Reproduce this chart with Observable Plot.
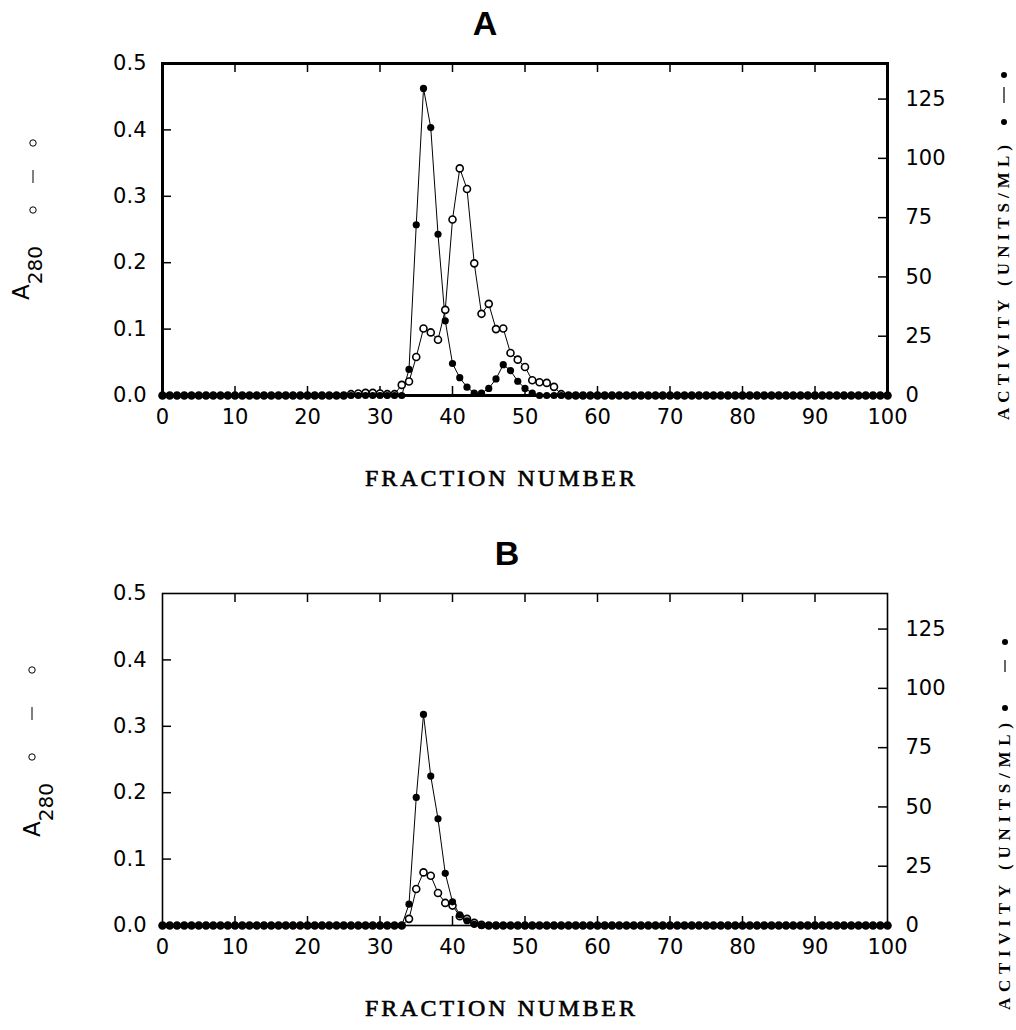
<!DOCTYPE html>
<html><head><meta charset="utf-8">
<script src="https://cdn.jsdelivr.net/npm/d3@7"></script>
<script src="https://cdn.jsdelivr.net/npm/@observablehq/plot@0.6"></script>
<style>
body{margin:0;background:#fff}
#chart{width:1016px}
svg{display:block}
</style>
</head><body><div id="chart"></div>
<script>
// ---- data ----
const fractions = [0,1,2,3,4,5,6,7,8,9,10,11,12,13,14,15,16,17,18,19,20,21,22,23,24,25,26,27,28,29,30,31,32,33,34,35,36,37,38,39,40,41,42,43,44,45,46,47,48,49,50,51,52,53,54,55,56,57,58,59,60,61,62,63,64,65,66,67,68,69,70,71,72,73,74,75,76,77,78,79,80,81,82,83,84,85,86,87,88,89,90,91,92,93,94,95,96,97,98,99,100];

// Panel A
const absA = [0,0,0,0,0,0,0,0,0,0, 0,0,0,0,0,0,0,0,0,0, 0,0,0,0,0,0,0.002,0.003,0.004,0.004, 0.003,0.002,0.002,0.016,0.021,0.058,0.101,0.095,0.084,0.129, 0.265,0.342,0.311,0.199,0.123,0.138,0.100,0.101,0.064,0.054, 0.043,0.023,0.020,0.019,0.013,0.002,0,0,0,0, 0,0,0,0,0,0,0,0,0,0, 0,0,0,0,0,0,0,0,0,0, 0,0,0,0,0,0,0,0,0,0, 0,0,0,0,0,0,0,0,0,0, 0];
const actA = [0,0,0,0,0,0,0,0,0,0, 0,0,0,0,0,0,0,0,0,0, 0,0,0,0,0,0,0,0,0,0, 0,0,0,0,11,72,129.5,113,68,31.5, 13.5,7.5,3.5,1,1,3,7,13,10.5,6, 3,1,0,0,0,0,0,0,0,0, 0,0,0,0,0,0,0,0,0,0, 0,0,0,0,0,0,0,0,0,0, 0,0,0,0,0,0,0,0,0,0, 0,0,0,0,0,0,0,0,0,0, 0];

// Panel B
const absB = [0,0,0,0,0,0,0,0,0,0, 0,0,0,0,0,0,0,0,0,0, 0,0,0,0,0,0,0,0,0,0, 0,0,0,0,0.010,0.055,0.080,0.075,0.049,0.034, 0.030,0.014,0.010,0.004,0.001,0,0,0,0,0, 0,0,0,0,0,0,0,0,0,0, 0,0,0,0,0,0,0,0,0,0, 0,0,0,0,0,0,0,0,0,0, 0,0,0,0,0,0,0,0,0,0, 0,0,0,0,0,0,0,0,0,0, 0];
const actB = [0,0,0,0,0,0,0,0,0,0, 0,0,0,0,0,0,0,0,0,0, 0,0,0,0,0,0,0,0,0,0, 0,0,0,0,9,54,89,63,45,22, 10,4.5,2,0.5,0,0,0,0,0,0, 0,0,0,0,0,0,0,0,0,0, 0,0,0,0,0,0,0,0,0,0, 0,0,0,0,0,0,0,0,0,0, 0,0,0,0,0,0,0,0,0,0, 0,0,0,0,0,0,0,0,0,0, 0];

// ticks
const xTicks = [0,10,20,30,40,50,60,70,80,90,100];
const absTicks = [0,0.1,0.2,0.3,0.4,0.5];
const actTicks = [0,25,50,75,100,125];

// ---- layout ----
const W = 1016, ML = 162, MR = 129, MT = 63, BOTTOM = 395;
const A_MAX = 0.5, ACT_MAX = 140, k = A_MAX / ACT_MAX;
const TICK = 9;

function panel(cfg) {
  const rows = fractions.map((f, i) => ({f, a: cfg.abs[i], v: cfg.act[i] * k}));
  const innerW = W - ML - MR, innerH = BOTTOM - MT;
  const tx = TICK * 100 / innerW, ty = TICK * A_MAX / innerH;
  const tickStyle = {stroke: "#000", strokeWidth: 1.5};
  const plot = Plot.plot({
    width: W, height: cfg.height,
    marginLeft: ML, marginRight: MR, marginTop: MT, marginBottom: cfg.height - BOTTOM,
    x: {domain: [0, 100]},
    y: {domain: [0, A_MAX]},
    style: {fontFamily: "DejaVu Sans", fontSize: "21px", color: "#000", background: "#fff", overflow: "visible"},
    marks: [
      Plot.axisX({ticks: xTicks, tickSize: 0, tickPadding: 14, label: null, tickFormat: d => String(d)}),
      Plot.axisY({anchor: "left", ticks: absTicks, tickSize: 0, tickPadding: 16, label: null, tickFormat: d3.format(".1f")}),
      Plot.axisY({anchor: "right", ticks: actTicks.map(t => t * k), tickSize: 0, tickPadding: 18, label: null, tickFormat: d => String(Math.round(d / k))}),
      Plot.ruleY(absTicks.slice(1, -1), {x1: 0, x2: tx, ...tickStyle}),
      Plot.ruleY(actTicks.slice(1).map(t => t * k), {x1: 100 - tx, x2: 100, ...tickStyle}),
      Plot.ruleX(xTicks.slice(1, -1), {y1: A_MAX - ty, y2: A_MAX, ...tickStyle}),
      Plot.ruleX(xTicks.slice(1, -1), {y1: 0, y2: ty, ...tickStyle}),
      Plot.line(rows, {x: "f", y: "a", stroke: "#000", strokeWidth: 1}),
      Plot.line(rows, {x: "f", y: "v", stroke: "#000", strokeWidth: 1}),
      Plot.dot(rows, {x: "f", y: "a", r: 3.5, fill: "#fff", stroke: "#000", strokeWidth: 1.6}),
      Plot.dot(rows, {x: "f", y: "v", r: 3.6, fill: "#000", stroke: "none"}),
      Plot.frame({stroke: "#000", strokeWidth: cfg.frameWidth})
    ]
  });
  const svg = d3.select(plot);
  // title
  svg.append("text").attr("x", cfg.titleX).attr("y", 35)
    .attr("text-anchor", "middle").attr("font-family", "Liberation Sans")
    .attr("font-weight", "bold").attr("font-size", 34).attr("fill", "#000").text(cfg.title);
  // x label
  svg.append("text").attr("x", 500).attr("y", 486)
    .attr("text-anchor", "middle").attr("font-family", "Liberation Serif")
    .attr("font-size", 24).attr("textLength", 270).attr("lengthAdjust", "spacing")
    .attr("fill", "#000").attr("stroke", "#000").attr("stroke-width", 0.6)
    .text("FRACTION NUMBER");
  // left label A280
  const yl = svg.append("text").attr("transform", `translate(${cfg.aX},${cfg.aY}) rotate(-90)`)
    .attr("text-anchor", "start").attr("font-family", "DejaVu Sans").attr("fill", "#000");
  yl.append("tspan").attr("font-size", 23).text("A");
  yl.append("tspan").attr("font-size", 20).attr("dy", 13).text("280");
  // left legend ○ — ○
  const lg = svg.append("g").attr("fill", "#fff").attr("stroke", "#000").attr("stroke-width", 1);
  lg.append("circle").attr("cx", cfg.lgX).attr("cy", cfg.lgY[0]).attr("r", 3.2);
  lg.append("line").attr("x1", cfg.lgX).attr("x2", cfg.lgX).attr("y1", cfg.lgY[1]).attr("y2", cfg.lgY[2]);
  lg.append("circle").attr("cx", cfg.lgX).attr("cy", cfg.lgY[3]).attr("r", 3.2);
  // right label
  svg.append("text").attr("transform", `translate(${cfg.rX},${cfg.rY0}) rotate(-90)`)
    .attr("text-anchor", "start")
    .attr("font-family", "Liberation Serif").attr("font-weight", "bold").attr("font-size", 17)
    .attr("textLength", cfg.rY0 - cfg.rY1).attr("lengthAdjust", "spacing").attr("fill", "#000")
    .text("ACTIVITY (UNITS/ML)");
  // right legend • — •
  const rg = svg.append("g").attr("fill", "#000").attr("stroke", "#000").attr("stroke-width", 1.2);
  rg.append("circle").attr("cx", cfg.rgX).attr("cy", cfg.rgY[0]).attr("r", 3).attr("stroke", "none");
  rg.append("line").attr("x1", cfg.rgX).attr("x2", cfg.rgX).attr("y1", cfg.rgY[1]).attr("y2", cfg.rgY[2]);
  rg.append("circle").attr("cx", cfg.rgX).attr("cy", cfg.rgY[3]).attr("r", 3).attr("stroke", "none");
  return plot;
}

const chart = document.getElementById("chart");
chart.appendChild(panel({
  abs: absA, act: actA, height: 530, frameWidth: 3, title: "A", titleX: 485,
  aX: 29, aY: 300, lgX: 33, lgY: [143, 170, 183, 210],
  rX: 1009, rY0: 420, rY1: 145, rgX: 1004, rgY: [75, 87, 103, 122]
}));
chart.appendChild(panel({
  abs: absB, act: actB, height: 500, frameWidth: 1.6, title: "B", titleX: 507,
  aX: 40, aY: 307, lgX: 32, lgY: [140, 177, 190, 227],
  rX: 1010, rY0: 480, rY1: 193, rgX: 1005, rgY: [112, 130, 142, 178]
}));
</script>
</body></html>
